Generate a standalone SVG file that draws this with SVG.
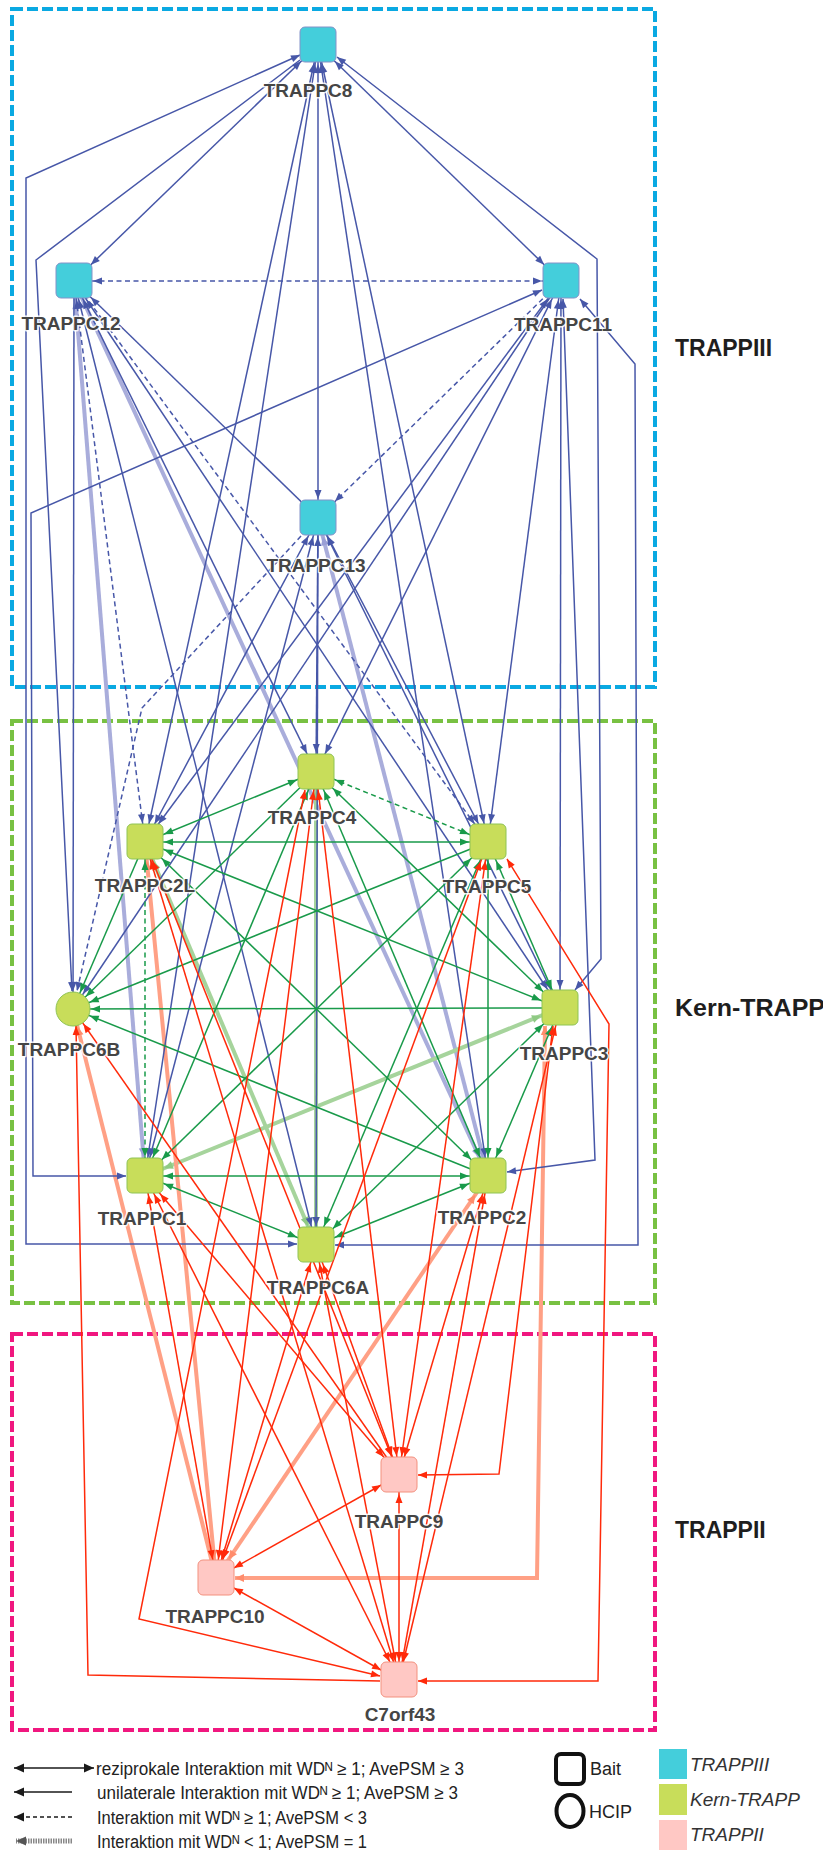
<svg xmlns="http://www.w3.org/2000/svg" width="823" height="1850" viewBox="0 0 823 1850">
<style>
.lbl{font-family:"Liberation Sans",Arial,sans-serif;font-weight:bold;font-size:19px;fill:#454545;text-anchor:middle;stroke:#fff;stroke-width:3px;stroke-opacity:.85;paint-order:stroke;stroke-linejoin:round}
.sec{font-family:"Liberation Sans",Arial,sans-serif;font-weight:bold;font-size:23px;fill:#1e1e1e}
.leg{font-family:"Liberation Sans","DejaVu Sans",Arial,sans-serif;font-size:18px;fill:#222}
.legi{font-family:"Liberation Sans",Arial,sans-serif;font-size:19px;font-style:italic;fill:#333}
.frame{fill:none;stroke-width:4;stroke-dasharray:11 4}
.n3{fill:#44cedb;stroke:#8492c8;stroke-width:1}
.nk{fill:#c8dd5a;stroke:#8fc455;stroke-width:1}
.n2{fill:#ffc8c4;stroke:#f3917f;stroke-width:1}
#edges path,#legend path{fill:none}
.b{stroke:#4757a8;stroke-width:1.5}
.bd{stroke:#4757a8;stroke-width:1.5;stroke-dasharray:5 3.5}
.g{stroke:#199a4a;stroke-width:1.5}
.gd{stroke:#199a4a;stroke-width:1.5;stroke-dasharray:5 3.5}
.r{stroke:#ff2a0a;stroke-width:1.5}
.tb{stroke:#a9addb;stroke-width:4}
.tg{stroke:#a6d49c;stroke-width:4}
.tr{stroke:#ffa085;stroke-width:4}
.lk{stroke:#1a1a1a;stroke-width:1.6}
</style>
<defs>
<!-- arrowheads: tip set back from the path end by the node half-size -->
<marker id="bA" viewBox="-40 -6 42 12" markerWidth="42" markerHeight="12" refX="0" refY="0" markerUnits="userSpaceOnUse" orient="auto-start-reverse"><path d="M-19,0 L-28,-3.5 L-28,3.5 Z" fill="#4757a8"/></marker>
<marker id="bB" viewBox="-40 -6 42 12" markerWidth="42" markerHeight="12" refX="0" refY="0" markerUnits="userSpaceOnUse" orient="auto-start-reverse"><path d="M-20.5,0 L-29.5,-3.5 L-29.5,3.5 Z" fill="#4757a8"/></marker>
<marker id="bC" viewBox="-40 -6 42 12" markerWidth="42" markerHeight="12" refX="0" refY="0" markerUnits="userSpaceOnUse" orient="auto-start-reverse"><path d="M-22.5,0 L-31.5,-3.5 L-31.5,3.5 Z" fill="#4757a8"/></marker>
<marker id="bD" viewBox="-40 -6 42 12" markerWidth="42" markerHeight="12" refX="0" refY="0" markerUnits="userSpaceOnUse" orient="auto-start-reverse"><path d="M-23.5,0 L-32.5,-3.5 L-32.5,3.5 Z" fill="#4757a8"/></marker>
<marker id="bO" viewBox="-40 -6 42 12" markerWidth="42" markerHeight="12" refX="0" refY="0" markerUnits="userSpaceOnUse" orient="auto-start-reverse"><path d="M-18,0 L-27,-3.5 L-27,3.5 Z" fill="#4757a8"/></marker>
<marker id="bZ" viewBox="-40 -6 42 12" markerWidth="42" markerHeight="12" refX="0" refY="0" markerUnits="userSpaceOnUse" orient="auto-start-reverse"><path d="M0,0 L-9,-3.5 L-9,3.5 Z" fill="#4757a8"/></marker>
<marker id="gA" viewBox="-40 -6 42 12" markerWidth="42" markerHeight="12" refX="0" refY="0" markerUnits="userSpaceOnUse" orient="auto-start-reverse"><path d="M-19,0 L-28,-3.5 L-28,3.5 Z" fill="#199a4a"/></marker>
<marker id="gB" viewBox="-40 -6 42 12" markerWidth="42" markerHeight="12" refX="0" refY="0" markerUnits="userSpaceOnUse" orient="auto-start-reverse"><path d="M-20.5,0 L-29.5,-3.5 L-29.5,3.5 Z" fill="#199a4a"/></marker>
<marker id="gD" viewBox="-40 -6 42 12" markerWidth="42" markerHeight="12" refX="0" refY="0" markerUnits="userSpaceOnUse" orient="auto-start-reverse"><path d="M-23.5,0 L-32.5,-3.5 L-32.5,3.5 Z" fill="#199a4a"/></marker>
<marker id="gO" viewBox="-40 -6 42 12" markerWidth="42" markerHeight="12" refX="0" refY="0" markerUnits="userSpaceOnUse" orient="auto-start-reverse"><path d="M-18,0 L-27,-3.5 L-27,3.5 Z" fill="#199a4a"/></marker>
<marker id="rA" viewBox="-40 -6 42 12" markerWidth="42" markerHeight="12" refX="0" refY="0" markerUnits="userSpaceOnUse" orient="auto-start-reverse"><path d="M-19,0 L-28,-3.5 L-28,3.5 Z" fill="#ff2a0a"/></marker>
<marker id="rB" viewBox="-40 -6 42 12" markerWidth="42" markerHeight="12" refX="0" refY="0" markerUnits="userSpaceOnUse" orient="auto-start-reverse"><path d="M-20.5,0 L-29.5,-3.5 L-29.5,3.5 Z" fill="#ff2a0a"/></marker>
<marker id="rD" viewBox="-40 -6 42 12" markerWidth="42" markerHeight="12" refX="0" refY="0" markerUnits="userSpaceOnUse" orient="auto-start-reverse"><path d="M-23.5,0 L-32.5,-3.5 L-32.5,3.5 Z" fill="#ff2a0a"/></marker>
<marker id="rO" viewBox="-40 -6 42 12" markerWidth="42" markerHeight="12" refX="0" refY="0" markerUnits="userSpaceOnUse" orient="auto-start-reverse"><path d="M-18,0 L-27,-3.5 L-27,3.5 Z" fill="#ff2a0a"/></marker>
<marker id="rZ" viewBox="-40 -6 42 12" markerWidth="42" markerHeight="12" refX="0" refY="0" markerUnits="userSpaceOnUse" orient="auto-start-reverse"><path d="M0,0 L-9,-3.5 L-9,3.5 Z" fill="#ff2a0a"/></marker>
<marker id="lbA" viewBox="-40 -6 42 12" markerWidth="42" markerHeight="12" refX="0" refY="0" markerUnits="userSpaceOnUse" orient="auto-start-reverse"><path d="M-19,0 L-28,-4 L-28,4 Z" fill="#9a9fd6"/></marker>
<marker id="lbB" viewBox="-40 -6 42 12" markerWidth="42" markerHeight="12" refX="0" refY="0" markerUnits="userSpaceOnUse" orient="auto-start-reverse"><path d="M-20.5,0 L-29.5,-4 L-29.5,4 Z" fill="#9a9fd6"/></marker>
<marker id="lgA" viewBox="-40 -6 42 12" markerWidth="42" markerHeight="12" refX="0" refY="0" markerUnits="userSpaceOnUse" orient="auto-start-reverse"><path d="M-19,0 L-28,-4 L-28,4 Z" fill="#8fca84"/></marker>
<marker id="lgB" viewBox="-40 -6 42 12" markerWidth="42" markerHeight="12" refX="0" refY="0" markerUnits="userSpaceOnUse" orient="auto-start-reverse"><path d="M-20.5,0 L-29.5,-4 L-29.5,4 Z" fill="#8fca84"/></marker>
<marker id="lrA" viewBox="-40 -6 42 12" markerWidth="42" markerHeight="12" refX="0" refY="0" markerUnits="userSpaceOnUse" orient="auto-start-reverse"><path d="M-19,0 L-28,-4 L-28,4 Z" fill="#ff8c6c"/></marker>
<marker id="lrC" viewBox="-40 -6 42 12" markerWidth="42" markerHeight="12" refX="0" refY="0" markerUnits="userSpaceOnUse" orient="auto-start-reverse"><path d="M-22.5,0 L-31.5,-4 L-31.5,4 Z" fill="#ff8c6c"/></marker>
<marker id="lrO" viewBox="-40 -6 42 12" markerWidth="42" markerHeight="12" refX="0" refY="0" markerUnits="userSpaceOnUse" orient="auto-start-reverse"><path d="M-18,0 L-27,-4 L-27,4 Z" fill="#ff8c6c"/></marker>
<marker id="lrZ" viewBox="-40 -6 42 12" markerWidth="42" markerHeight="12" refX="0" refY="0" markerUnits="userSpaceOnUse" orient="auto-start-reverse"><path d="M0,0 L-9,-4 L-9,4 Z" fill="#ff8c6c"/></marker>
<marker id="kZ" viewBox="-40 -6 42 12" markerWidth="42" markerHeight="12" refX="0" refY="0" markerUnits="userSpaceOnUse" orient="auto-start-reverse"><path d="M0,0 L-10,-4.5 L-10,4.5 Z" fill="#1a1a1a"/></marker>
<marker id="kgZ" viewBox="-40 -6 42 12" markerWidth="42" markerHeight="12" refX="0" refY="0" markerUnits="userSpaceOnUse" orient="auto-start-reverse"><path d="M0,0 L-10,-4.5 L-10,4.5 Z" fill="#555"/></marker>
</defs>
<rect width="823" height="1850" fill="#fff"/>

<!-- complex frames -->
<g id="frames">
<rect class="frame" x="12" y="9" width="643" height="678" stroke="#0aa9e2"/>
<rect class="frame" x="12" y="721" width="643" height="582" stroke="#78c142"/>
<rect class="frame" x="12" y="1334" width="643" height="396" stroke="#f0177f"/>
<text class="sec" x="675" y="356">TRAPPIII</text>
<text class="sec" x="675" y="1016" textLength="150" lengthAdjust="spacingAndGlyphs">Kern-TRAPP</text>
<text class="sec" x="675" y="1538">TRAPPII</text>
</g>

<g id="edges">
<!-- low-confidence interactions (WDN < 1) -->
<path class="tb" d="M74,281 L145,1176" marker-start="url(#lbA)" marker-end="url(#lbA)"/>
<path class="tb" d="M74,281 L488,1176" marker-start="url(#lbB)" marker-end="url(#lbB)"/>
<path class="tb" d="M318,518 L488,1176" marker-start="url(#lbA)" marker-end="url(#lbA)"/>
<path class="tg" d="M316,772 L316,1245" marker-start="url(#lgA)" marker-end="url(#lgA)"/>
<path class="tg" d="M145,842 L316,1245" marker-start="url(#lgB)" marker-end="url(#lgB)"/>
<path class="tg" d="M560,1008 L145,1176" marker-start="url(#lgB)" marker-end="url(#lgB)"/>
<path class="tr" d="M145,842 L216,1578" marker-start="url(#lrA)" marker-end="url(#lrA)"/>
<path class="tr" d="M488,1176 L216,1578" marker-start="url(#lrC)" marker-end="url(#lrC)"/>
<path class="tr" d="M216,1578 L73,1009" marker-end="url(#lrO)"/>
<path class="tr" d="M545,1026 L537,1578 L235,1578" marker-start="url(#lrZ)" marker-end="url(#lrZ)"/>

<!-- TRAPPIII interactions -->
<path class="b" d="M318,45 L74,281" marker-start="url(#bD)" marker-end="url(#bD)"/>
<path class="b" d="M318,45 L561,281" marker-start="url(#bD)" marker-end="url(#bD)"/>
<path class="b" d="M318,45 L318,518" marker-start="url(#bA)" marker-end="url(#bA)"/>
<path class="b" d="M318,45 L145,842" marker-start="url(#bA)" marker-end="url(#bA)"/>
<path class="b" d="M318,45 L488,842" marker-start="url(#bA)" marker-end="url(#bA)"/>
<path class="b" d="M318,45 L145,1176" marker-start="url(#bA)" marker-end="url(#bA)"/>
<path class="b" d="M318,45 L488,1176" marker-start="url(#bA)" marker-end="url(#bA)"/>
<path class="b" d="M74,281 L316,772" marker-start="url(#bB)" marker-end="url(#bB)"/>
<path class="b" d="M74,281 L73,1009" marker-end="url(#bO)"/>
<path class="b" d="M74,281 L560,1008" marker-start="url(#bC)" marker-end="url(#bC)"/>
<path class="b" d="M74,281 L316,1245" marker-start="url(#bA)" marker-end="url(#bA)"/>
<path class="b" d="M561,281 L145,842" marker-start="url(#bC)" marker-end="url(#bC)"/>
<path class="b" d="M561,281 L316,772" marker-start="url(#bB)" marker-end="url(#bB)"/>
<path class="b" d="M561,281 L488,842" marker-start="url(#bA)" marker-end="url(#bA)"/>
<path class="b" d="M561,281 L73,1009" marker-end="url(#bO)"/>
<path class="b" d="M561,281 L560,1008" marker-start="url(#bA)" marker-end="url(#bA)"/>
<path class="b" d="M318,518 L74,281" marker-end="url(#bD)"/>
<path class="b" d="M318,518 L145,842" marker-start="url(#bB)" marker-end="url(#bB)"/>
<path class="b" d="M318,518 L316,772" marker-start="url(#bA)" marker-end="url(#bA)"/>
<path class="b" d="M318,518 L488,842" marker-start="url(#bB)" marker-end="url(#bB)"/>
<path class="b" d="M318,518 L560,1008" marker-start="url(#bB)" marker-end="url(#bB)"/>
<path class="b" d="M318,518 L145,1176" marker-start="url(#bA)" marker-end="url(#bA)"/>
<path class="b" d="M318,518 L316,1245" marker-end="url(#bA)"/>
<path class="b" d="M300,55 L26,178 L26,1244 L297,1244" marker-start="url(#bZ)" marker-end="url(#bZ)"/>
<path class="b" d="M542,290 L31,513 L33,1176 L126,1176" marker-start="url(#bZ)" marker-end="url(#bZ)"/>
<path class="b" d="M300,60 L36,260 L72,991" marker-end="url(#bZ)"/>
<path class="b" d="M337,57 L597,259 L601,959 L575,990" marker-start="url(#bZ)" marker-end="url(#bZ)"/>
<path class="b" d="M580,299 L635,364 L638,1245 L335,1245" marker-start="url(#bZ)" marker-end="url(#bZ)"/>
<path class="b" d="M563,299 L595,1160 L507,1172" marker-start="url(#bZ)" marker-end="url(#bZ)"/>
<path class="bd" d="M74,281 L561,281" marker-start="url(#bA)" marker-end="url(#bA)"/>
<path class="bd" d="M561,281 L318,518" marker-end="url(#bD)"/>
<path class="bd" d="M74,281 L145,842" marker-start="url(#bA)" marker-end="url(#bA)"/>
<path class="bd" d="M74,281 L488,842" marker-end="url(#bC)"/>
<path class="bd" d="M301,536 L142,708 L77,991" marker-end="url(#bZ)"/>

<!-- core TRAPP interactions -->
<path class="g" d="M316,772 L145,842" marker-start="url(#gB)" marker-end="url(#gB)"/>
<path class="g" d="M316,772 L73,1009" marker-end="url(#gO)"/>
<path class="g" d="M316,772 L560,1008" marker-start="url(#gD)" marker-end="url(#gD)"/>
<path class="g" d="M316,772 L145,1176" marker-start="url(#gB)" marker-end="url(#gB)"/>
<path class="g" d="M316,772 L488,1176" marker-start="url(#gB)" marker-end="url(#gB)"/>
<path class="g" d="M145,842 L488,842" marker-start="url(#gA)" marker-end="url(#gA)"/>
<path class="g" d="M145,842 L73,1009" marker-end="url(#gO)"/>
<path class="g" d="M145,842 L560,1008" marker-start="url(#gB)" marker-end="url(#gB)"/>
<path class="g" d="M145,842 L488,1176" marker-start="url(#gD)" marker-end="url(#gD)"/>
<path class="g" d="M488,842 L73,1009" marker-end="url(#gO)"/>
<path class="g" d="M488,842 L560,1008" marker-start="url(#gB)" marker-end="url(#gB)"/>
<path class="g" d="M488,842 L145,1176" marker-start="url(#gD)" marker-end="url(#gD)"/>
<path class="g" d="M488,842 L488,1176" marker-start="url(#gA)" marker-end="url(#gA)"/>
<path class="g" d="M488,842 L316,1245" marker-start="url(#gB)" marker-end="url(#gB)"/>
<path class="g" d="M560,1008 L73,1009" marker-end="url(#gO)"/>
<path class="g" d="M488,1176 L73,1009" marker-end="url(#gO)"/>
<path class="g" d="M560,1008 L488,1176" marker-start="url(#gB)" marker-end="url(#gB)"/>
<path class="g" d="M560,1008 L316,1245" marker-start="url(#gD)" marker-end="url(#gD)"/>
<path class="g" d="M145,1176 L488,1176" marker-start="url(#gA)" marker-end="url(#gA)"/>
<path class="g" d="M145,1176 L316,1245" marker-start="url(#gB)" marker-end="url(#gB)"/>
<path class="g" d="M488,1176 L316,1245" marker-start="url(#gB)" marker-end="url(#gB)"/>
<path class="gd" d="M316,772 L488,842" marker-start="url(#gB)" marker-end="url(#gB)"/>
<path class="gd" d="M145,842 L145,1176" marker-start="url(#gA)" marker-end="url(#gA)"/>

<!-- TRAPPII interactions -->
<path class="r" d="M399,1475 L316,772" marker-start="url(#rA)" marker-end="url(#rA)"/>
<path class="r" d="M399,1475 L145,842" marker-start="url(#rB)" marker-end="url(#rB)"/>
<path class="r" d="M399,1475 L488,842" marker-start="url(#rA)" marker-end="url(#rA)"/>
<path class="r" d="M399,1475 L73,1009" marker-end="url(#rO)"/>
<path class="r" d="M399,1475 L145,1176" marker-start="url(#rD)" marker-end="url(#rD)"/>
<path class="r" d="M399,1475 L488,1176" marker-start="url(#rA)" marker-end="url(#rA)"/>
<path class="r" d="M399,1475 L316,1245" marker-start="url(#rB)" marker-end="url(#rB)"/>
<path class="r" d="M216,1578 L316,772" marker-start="url(#rA)" marker-end="url(#rA)"/>
<path class="r" d="M216,1578 L488,842" marker-start="url(#rB)" marker-end="url(#rB)"/>
<path class="r" d="M216,1578 L145,1176" marker-start="url(#rA)" marker-end="url(#rA)"/>
<path class="r" d="M216,1578 L316,1245" marker-start="url(#rA)" marker-end="url(#rA)"/>
<path class="r" d="M399,1680 L145,842" marker-start="url(#rA)" marker-end="url(#rA)"/>
<path class="r" d="M399,1680 L560,1008" marker-start="url(#rA)" marker-end="url(#rA)"/>
<path class="r" d="M399,1680 L145,1176" marker-start="url(#rB)" marker-end="url(#rB)"/>
<path class="r" d="M399,1680 L488,1176" marker-start="url(#rA)" marker-end="url(#rA)"/>
<path class="r" d="M399,1680 L316,1245" marker-start="url(#rA)" marker-end="url(#rA)"/>
<path class="r" d="M399,1475 L216,1578" marker-start="url(#rB)" marker-end="url(#rB)"/>
<path class="r" d="M399,1475 L399,1680" marker-start="url(#rA)" marker-end="url(#rA)"/>
<path class="r" d="M216,1578 L399,1680" marker-start="url(#rB)" marker-end="url(#rB)"/>
<path class="r" d="M553,1026 L499,1474 L418,1475" marker-start="url(#rZ)" marker-end="url(#rZ)"/>
<path class="r" d="M305,790 L139,1619 L380,1676" marker-start="url(#rZ)" marker-end="url(#rZ)"/>
<path class="r" d="M507,859 L609,1024 L598,1681 L418,1681" marker-start="url(#rZ)" marker-end="url(#rZ)"/>
<path class="r" d="M76,1026 L88,1675 L380,1681" marker-start="url(#rZ)"/>
</g>

<!-- TRAPPIII -->
<g id="n-trappc8"><rect class="n3" x="300" y="27" width="36" height="35" rx="5"/><text class="lbl" x="308" y="97">TRAPPC8</text></g>
<g id="n-trappc12"><rect class="n3" x="56" y="263" width="36" height="35" rx="5"/><text class="lbl" x="71" y="330">TRAPPC12</text></g>
<g id="n-trappc11"><rect class="n3" x="543" y="263" width="36" height="35" rx="5"/><text class="lbl" x="563" y="331">TRAPPC11</text></g>
<g id="n-trappc13"><rect class="n3" x="300" y="500" width="36" height="35" rx="5"/><text class="lbl" x="316" y="572">TRAPPC13</text></g>
<!-- core TRAPP -->
<g id="n-trappc4"><rect class="nk" x="298" y="754" width="36" height="35" rx="5"/><text class="lbl" x="312" y="824">TRAPPC4</text></g>
<g id="n-trappc2l"><rect class="nk" x="127" y="824" width="36" height="35" rx="5"/><text class="lbl" x="145" y="892">TRAPPC2L</text></g>
<g id="n-trappc5"><rect class="nk" x="470" y="824" width="36" height="35" rx="5"/><text class="lbl" x="487" y="893">TRAPPC5</text></g>
<g id="n-trappc6b"><circle class="nk" cx="73" cy="1009" r="17"/><text class="lbl" x="69" y="1056">TRAPPC6B</text></g>
<g id="n-trappc3"><rect class="nk" x="542" y="990" width="36" height="35" rx="5"/><text class="lbl" x="564" y="1060">TRAPPC3</text></g>
<g id="n-trappc1"><rect class="nk" x="127" y="1158" width="36" height="35" rx="5"/><text class="lbl" x="142" y="1225">TRAPPC1</text></g>
<g id="n-trappc2"><rect class="nk" x="470" y="1158" width="36" height="35" rx="5"/><text class="lbl" x="482" y="1224">TRAPPC2</text></g>
<g id="n-trappc6a"><rect class="nk" x="298" y="1227" width="36" height="35" rx="5"/><text class="lbl" x="318" y="1294">TRAPPC6A</text></g>
<!-- TRAPPII -->
<g id="n-trappc9"><rect class="n2" x="381" y="1457" width="36" height="35" rx="5"/><text class="lbl" x="399" y="1528">TRAPPC9</text></g>
<g id="n-trappc10"><rect class="n2" x="198" y="1560" width="36" height="35" rx="5"/><text class="lbl" x="215" y="1623">TRAPPC10</text></g>
<g id="n-c7orf43"><rect class="n2" x="381" y="1662" width="36" height="35" rx="5"/><text class="lbl" x="400" y="1721">C7orf43</text></g>

<g id="legend">
<path class="lk" d="M14,1768 L94,1768" marker-start="url(#kZ)" marker-end="url(#kZ)"/>
<path class="lk" d="M72,1792 L14,1792" marker-end="url(#kZ)"/>
<path class="lk" d="M72,1817 L14,1817" stroke-dasharray="4 3" marker-end="url(#kZ)"/>
<path d="M72,1841 L16,1841" stroke="#888" stroke-width="5" stroke-dasharray="1.5 1" marker-end="url(#kgZ)"/>
<text class="leg" x="96" y="1775" textLength="368" lengthAdjust="spacingAndGlyphs">reziprokale Interaktion mit WDᴺ ≥ 1; AvePSM ≥ 3</text>
<text class="leg" x="97" y="1799" textLength="361" lengthAdjust="spacingAndGlyphs">unilaterale Interaktion mit WDᴺ ≥ 1; AvePSM ≥ 3</text>
<text class="leg" x="97" y="1824" textLength="270" lengthAdjust="spacingAndGlyphs">Interaktion mit WDᴺ ≥ 1; AvePSM &lt; 3</text>
<text class="leg" x="97" y="1848" textLength="270" lengthAdjust="spacingAndGlyphs">Interaktion mit WDᴺ &lt; 1; AvePSM = 1</text>
<rect x="556" y="1754" width="28" height="30" rx="5" fill="none" stroke="#111" stroke-width="4"/>
<text class="leg" x="590" y="1775">Bait</text>
<ellipse cx="570" cy="1811" rx="13.5" ry="16" fill="none" stroke="#111" stroke-width="4"/>
<text class="leg" x="589" y="1818">HCIP</text>
<rect x="659" y="1749" width="28" height="30" fill="#44cedb"/>
<rect x="659" y="1784" width="28" height="31" fill="#c8dd5a"/>
<rect x="659" y="1820" width="28" height="30" fill="#ffc8c4"/>
<text class="legi" x="690" y="1771">TRAPPIII</text>
<text class="legi" x="690" y="1806">Kern-TRAPP</text>
<text class="legi" x="690" y="1841">TRAPPII</text>
</g>
</svg>
